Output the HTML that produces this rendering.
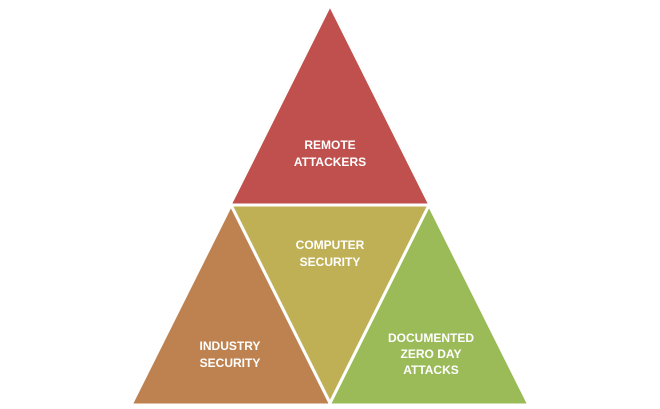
<!DOCTYPE html>
<html><head><style>body{margin:0;background:#fff}svg{display:block}text{font-family:"Liberation Sans",sans-serif;font-weight:bold;font-size:12px;fill:#fff;text-anchor:middle}</style></head>
<body>
<svg width="660" height="409" viewBox="0 0 660 409">
<g stroke="#fff" stroke-width="3" stroke-linejoin="miter">
<polygon points="330,5 230,205 430,205" fill="#C0504D"/>
<polygon points="231,205 131,405 331,405" fill="#BE8250"/>
<polygon points="429,205 329,405 529,405" fill="#9BBB59"/>
<polygon points="231,205 429,205 330,403" fill="#BFB056"/>
</g>
<text x="330" y="149">REMOTE</text>
<text x="330" y="166">ATTACKERS</text>
<text x="330" y="249">COMPUTER</text>
<text x="330" y="266">SECURITY</text>
<text x="230" y="350">INDUSTRY</text>
<text x="230" y="367">SECURITY</text>
<text x="431" y="342">DOCUMENTED</text>
<text x="431" y="358">ZERO DAY</text>
<text x="431" y="374">ATTACKS</text>
</svg>
</body></html>
